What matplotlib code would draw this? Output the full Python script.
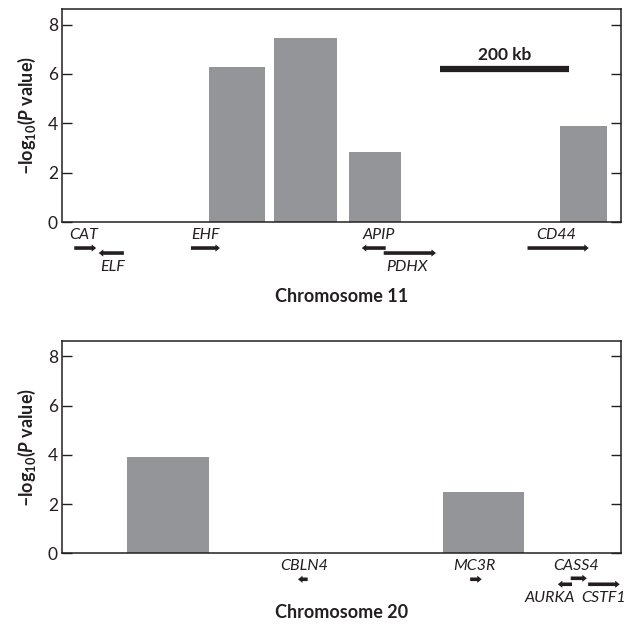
import matplotlib
matplotlib.use("Agg")
import matplotlib.pyplot as plt
from matplotlib.patches import Polygon

plt.rcParams['font.family'] = ['Lato', 'DejaVu Sans']
plt.rcParams['mathtext.fontset'] = 'custom'
plt.rcParams['mathtext.rm'] = 'Lato:bold'
plt.rcParams['mathtext.it'] = 'Lato:bold:italic'
plt.rcParams['mathtext.bf'] = 'Lato:bold'

### Data (x in kb along the region) ###
# chromosome 11
chr11_bar_left = [228, 329, 445, 772]
chr11_bar_right = [315, 426, 526, 845]
chr11_values = [6.3, 7.45, 2.85, 3.9]
chr11_genes = ["CAT", "ELF", "EHF", "APIP", "PDHX", "CD44"]
chr11_gene_start = [19, 57, 200, 465, 499, 722]
chr11_gene_end = [53, 96, 245, 502, 580, 817]
chr11_strand = [1, -1, 1, -1, 1, 1]
chr11_row = [0, 1, 0, 0, 1, 0]
chr11_label_x = [34, 78, 222, 491, 535, 767]
chr11_xmax = 867

scale_start, scale_end = 586, 786
scale_y = 6.22

# chromosome 20
chr20_bar_left = [101, 591]
chr20_bar_right = [228, 717]
chr20_values = [3.9, 2.5]
chr20_genes = ["CBLN4", "MC3R", "CASS4", "AURKA", "CSTF1"]
chr20_gene_start = [366, 633, 789, 769, 816]
chr20_gene_end = [381, 651, 814, 791, 865]
chr20_strand = [-1, 1, 1, -1, 1]
chr20_row = [0, 0, 2, 1, 1]
chr20_label_x = [375, 640, 798, 756, 840]
chr20_xmax = 867

bar_color = "#939598"
ink = "#231f20"

fig = plt.figure(figsize=(6.34, 6.29), dpi=100)
ax1 = fig.add_axes([0.0978, 0.647, 0.8817, 0.3386])
ax2 = fig.add_axes([0.0978, 0.1203, 0.8817, 0.338])

AX_H = 213          # axes height in px
KB_PER_PX = 867 / 559


def style_axis(ax, xmax):
    ax.set_xlim(0, xmax)
    ax.set_ylim(0, 8.63)
    ax.set_yticks([0, 2, 4, 6, 8])
    ax.set_xticks([])
    ax.tick_params(axis="y", direction="in", length=7, width=1, pad=3,
                   labelsize=12.5, colors=ink, right=True)
    for sp in ax.spines.values():
        sp.set_color(ink)
        sp.set_linewidth(1.1)
    ax.set_ylabel(r"–log$_{10}$($\mathit{P}$ value)", fontsize=13,
                  fontweight="bold", color=ink, labelpad=7)


def gene_arrow(ax, s, e, d, y):
    # shaft + small triangular head, x in kb, y in axes fraction
    tr = ax.get_xaxis_transform()
    head = 4.5 * KB_PER_PX
    half_shaft = 1.8 / AX_H
    half_head = 3.6 / AX_H
    if d > 0:
        tail, tip = s, e
    else:
        tail, tip = e, s
    base = tip - d * head
    pts = [(tail, y - half_shaft), (base, y - half_shaft), (base, y - half_head),
           (tip, y), (base, y + half_head), (base, y + half_shaft),
           (tail, y + half_shaft)]
    ax.add_patch(Polygon(pts, closed=True, transform=tr, clip_on=False,
                         facecolor=ink, edgecolor="none"))


def draw_genes(ax, names, starts, ends, strands, rows, label_x):
    tr = ax.get_xaxis_transform()
    arrow_y = {0: -26 / AX_H, 1: -31 / AX_H, 2: -25 / AX_H}
    for name, s, e, d, r, lx in zip(names, starts, ends, strands, rows, label_x):
        gene_arrow(ax, s, e, d, arrow_y[r])
        ty = -45 / AX_H if r == 1 else -13 / AX_H
        ax.text(lx, ty, name, transform=tr, ha="center", va="center",
                fontsize=11.5, style="italic", color=ink)


### Chromosome 11 ###
style_axis(ax1, chr11_xmax)
ax1.bar(chr11_bar_left, chr11_values,
        width=[r - l for l, r in zip(chr11_bar_left, chr11_bar_right)],
        align="edge", color=bar_color)
ax1.plot([scale_start, scale_end], [scale_y, scale_y], color=ink, lw=4.5,
         solid_capstyle="butt")
ax1.text((scale_start + scale_end) / 2, scale_y + 0.55, "200 kb", ha="center",
         va="center", fontsize=12.5, fontweight="bold", color=ink)
draw_genes(ax1, chr11_genes, chr11_gene_start, chr11_gene_end, chr11_strand,
           chr11_row, chr11_label_x)
ax1.text(0.5, -74 / AX_H, "Chromosome 11", transform=ax1.transAxes, ha="center",
         va="center", fontsize=13, fontweight="bold", color=ink)

### Chromosome 20 ###
style_axis(ax2, chr20_xmax)
ax2.bar(chr20_bar_left, chr20_values,
        width=[r - l for l, r in zip(chr20_bar_left, chr20_bar_right)],
        align="edge", color=bar_color)
draw_genes(ax2, chr20_genes, chr20_gene_start, chr20_gene_end, chr20_strand,
           chr20_row, chr20_label_x)
ax2.text(0.5, -59 / AX_H, "Chromosome 20", transform=ax2.transAxes, ha="center",
         va="center", fontsize=13, fontweight="bold", color=ink)

fig.savefig("out.png", dpi=100)
